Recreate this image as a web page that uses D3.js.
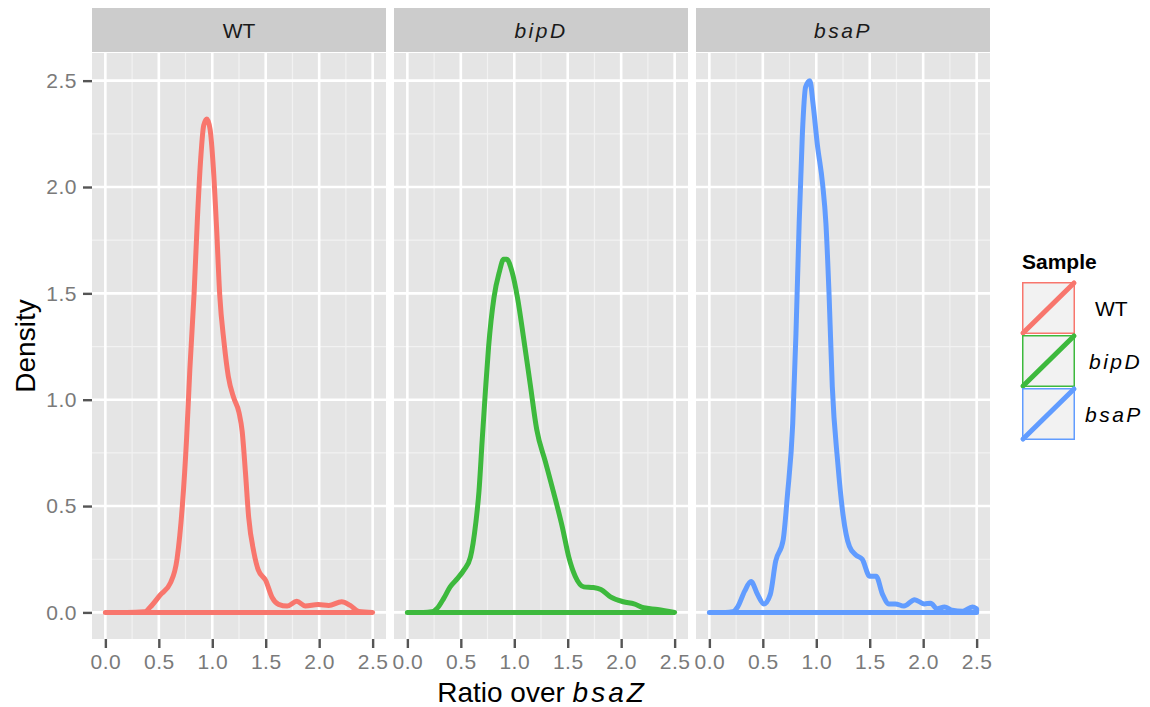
<!DOCTYPE html>
<html>
<head>
<meta charset="utf-8">
<script src="https://cdn.jsdelivr.net/npm/d3@7"></script>
<style>
  body { margin: 0; background: #fff; }
  text { font-family: "Liberation Sans", Arial, sans-serif; }
</style>
</head>
<body>
<div id="chart"></div>
<script>
// samples and colours
var samples = ["WT", "bipD", "bsaP"];
var italicSample = [false, true, true];
var colors = ["#F8766D", "#3DB93D", "#619CFF"];

// density curves: [ratio, density]
var wtDensity = [
    [0, 0], [0.2, 0], [0.37, 0.003], [0.42, 0.025], [0.51, 0.08], [0.61, 0.14], [0.67, 0.25],
    [0.72, 0.5], [0.76, 0.82], [0.79, 1.14], [0.83, 1.5], [0.86, 1.84], [0.89, 2.12],
    [0.92, 2.29], [0.95, 2.32], [0.98, 2.27], [1.01, 2.09], [1.04, 1.81], [1.07, 1.49],
    [1.11, 1.27], [1.15, 1.11], [1.2, 1.01], [1.25, 0.94], [1.28, 0.85], [1.31, 0.66],
    [1.34, 0.45], [1.39, 0.28], [1.43, 0.2], [1.5, 0.15], [1.56, 0.07], [1.62, 0.038],
    [1.7, 0.03], [1.79, 0.052], [1.87, 0.03], [1.99, 0.037], [2.09, 0.033], [2.21, 0.05],
    [2.29, 0.033], [2.37, 0.005], [2.5, 0]
];
var bipdDensity = [
    [0, 0], [0.15, 0], [0.23, 0.003], [0.28, 0.02], [0.34, 0.066], [0.4, 0.12], [0.47, 0.16],
    [0.53, 0.2], [0.59, 0.26], [0.64, 0.42], [0.67, 0.57], [0.7, 0.81], [0.73, 1.04],
    [0.76, 1.25], [0.81, 1.48], [0.86, 1.6], [0.9, 1.66], [0.93, 1.66], [0.98, 1.6],
    [1.03, 1.48], [1.09, 1.28], [1.15, 1.07], [1.21, 0.86], [1.29, 0.71], [1.37, 0.56],
    [1.45, 0.4], [1.51, 0.26], [1.57, 0.17], [1.65, 0.12], [1.74, 0.117], [1.81, 0.108],
    [1.9, 0.073], [2.02, 0.05], [2.12, 0.04], [2.21, 0.022], [2.34, 0.014], [2.5, 0]
];
var bsapDensity = [
    [0, 0], [0.15, 0], [0.22, 0.003], [0.265, 0.026], [0.33, 0.1], [0.39, 0.145], [0.45, 0.085],
    [0.51, 0.04], [0.57, 0.085], [0.62, 0.24], [0.69, 0.34], [0.73, 0.55], [0.78, 0.89],
    [0.81, 1.31], [0.84, 1.83], [0.87, 2.25], [0.9, 2.47], [0.94, 2.5], [0.97, 2.39],
    [1.01, 2.2], [1.06, 2.01], [1.09, 1.83], [1.12, 1.49], [1.15, 1.06], [1.2, 0.71],
    [1.25, 0.46], [1.31, 0.31], [1.37, 0.27], [1.43, 0.25], [1.5, 0.17], [1.56, 0.17],
    [1.62, 0.085], [1.68, 0.04], [1.74, 0.04], [1.82, 0.03], [1.92, 0.06], [2.01, 0.04],
    [2.07, 0.043], [2.13, 0.017], [2.2, 0.026], [2.27, 0.01], [2.37, 0.005], [2.46, 0.026],
    [2.5, 0.017]
];
var densities = [wtDensity, bipdDensity, bsapDensity];

var xTicks = [0, 0.5, 1.0, 1.5, 2.0, 2.5];
var yTicks = [0, 0.5, 1.0, 1.5, 2.0, 2.5];

const width = 1150, height = 707;
const panelTop = 53, panelBottom = 639, panelWidth = 294;
const panelLeft = [92, 394, 696];

var svg = d3.select("#chart").append("svg")
    .attr("width", width)
    .attr("height", height);

const x = d3.scaleLinear().domain([-0.125, 2.625]).range([0, panelWidth]);
const y = d3.scaleLinear().domain([-0.125, 2.63]).range([panelBottom, panelTop]);

const xMinor = d3.range(0.25, 2.6, 0.5);
const yMinor = d3.range(0.25, 2.6, 0.5);

const area = d3.area()
    .x(d => x(d[0]))
    .y0(y(0))
    .y1(d => y(d[1]))
    .curve(d3.curveMonotoneX);

function styleTicks(sel) {
    sel.select(".domain").remove();
    sel.selectAll(".tick line").attr("stroke", "#555").attr("stroke-width", 2.4);
    sel.selectAll(".tick text")
        .style("font-size", "21px")
        .style("letter-spacing", "0.5px")
        .style("fill", "#7A7A7A")
        .style("font-family", "Liberation Sans, Arial, sans-serif");
}

samples.forEach(function (s, i) {
    var g = svg.append("g").attr("transform", "translate(" + panelLeft[i] + ",0)");

    // panel background
    g.append("rect")
        .attr("x", 0).attr("y", panelTop)
        .attr("width", panelWidth).attr("height", panelBottom - panelTop)
        .attr("fill", "#E5E5E5");

    // minor grid
    g.selectAll(".xminor").data(xMinor).enter().append("line")
        .attr("x1", d => x(d)).attr("x2", d => x(d))
        .attr("y1", panelTop).attr("y2", panelBottom)
        .attr("stroke", "#F2F2F2").attr("stroke-width", 1.2);
    g.selectAll(".yminor").data(yMinor).enter().append("line")
        .attr("x1", 0).attr("x2", panelWidth)
        .attr("y1", d => y(d)).attr("y2", d => y(d))
        .attr("stroke", "#F2F2F2").attr("stroke-width", 1.2);

    // major grid
    g.selectAll(".xmajor").data(xTicks).enter().append("line")
        .attr("x1", d => x(d)).attr("x2", d => x(d))
        .attr("y1", panelTop).attr("y2", panelBottom)
        .attr("stroke", "#fff").attr("stroke-width", 2.6);
    g.selectAll(".ymajor").data(yTicks).enter().append("line")
        .attr("x1", 0).attr("x2", panelWidth)
        .attr("y1", d => y(d)).attr("y2", d => y(d))
        .attr("stroke", "#fff").attr("stroke-width", 2.6);

    // strip
    g.append("rect")
        .attr("x", 0).attr("y", 8)
        .attr("width", panelWidth).attr("height", 44)
        .attr("fill", "#CCCCCC");
    g.append("text")
        .attr("x", panelWidth / 2).attr("y", 38)
        .attr("text-anchor", "middle")
        .style("font-size", "21px")
        .style("fill", "#1A1A1A")
        .style("font-style", italicSample[i] ? "italic" : "normal")
        .style("letter-spacing", italicSample[i] ? "2.5px" : "0px")
        .text(s);

    // density outline
    g.append("path")
        .datum(densities[i])
        .attr("d", area)
        .attr("fill", "none")
        .attr("stroke", colors[i])
        .attr("stroke-width", 5)
        .attr("stroke-linejoin", "round")
        .attr("stroke-linecap", "round");

    // x axis
    var xAxis = d3.axisBottom(x)
        .tickValues(xTicks)
        .tickFormat(d3.format(".1f"))
        .tickSize(9)
        .tickPadding(6);
    var ax = g.append("g")
        .attr("transform", "translate(0," + panelBottom + ")")
        .call(xAxis);
    styleTicks(ax);
});

// y axis
var yAxis = d3.axisLeft(y)
    .tickValues(yTicks)
    .tickFormat(d3.format(".1f"))
    .tickSize(9)
    .tickPadding(6);
var ay = svg.append("g")
    .attr("transform", "translate(" + panelLeft[0] + ",0)")
    .call(yAxis);
styleTicks(ay);

// axis titles
svg.append("text")
    .attr("transform", "rotate(-90)")
    .attr("x", -(panelTop + panelBottom) / 2)
    .attr("y", 35)
    .attr("text-anchor", "middle")
    .style("font-size", "28px")
    .style("fill", "#000")
    .text("Density");

var xt = svg.append("text")
    .attr("x", 542)
    .attr("y", 702)
    .attr("text-anchor", "middle")
    .style("font-size", "28px")
    .style("fill", "#000");
xt.append("tspan").text("Ratio over ");
xt.append("tspan").style("font-style", "italic").style("letter-spacing", "3px").text("bsaZ");

// legend
var legend = svg.append("g").attr("transform", "translate(1022,0)");
legend.append("text")
    .attr("x", 0).attr("y", 269)
    .style("font-size", "21px")
    .style("font-weight", "bold")
    .style("fill", "#000")
    .text("Sample");

var keyTop = [282, 335, 388];
var labelX = [73, 67, 63];
samples.forEach(function (s, i) {
    var k = legend.append("g").attr("transform", "translate(0," + keyTop[i] + ")");
    k.append("rect")
        .attr("x", 0.75).attr("y", 0.75)
        .attr("width", 51.5).attr("height", 50.5)
        .attr("fill", "#F2F2F2")
        .attr("stroke", colors[i])
        .attr("stroke-width", 1.5);
    k.append("line")
        .attr("x1", 1).attr("y1", 51)
        .attr("x2", 52).attr("y2", 1)
        .attr("stroke", colors[i])
        .attr("stroke-width", 5)
        .attr("stroke-linecap", "round");
    k.append("text")
        .attr("x", labelX[i]).attr("y", 34)
        .style("font-size", "21px")
        .style("fill", "#000")
        .style("font-style", italicSample[i] ? "italic" : "normal")
        .style("letter-spacing", italicSample[i] ? "2.5px" : "0px")
        .text(s);
});
</script>
</body>
</html>
